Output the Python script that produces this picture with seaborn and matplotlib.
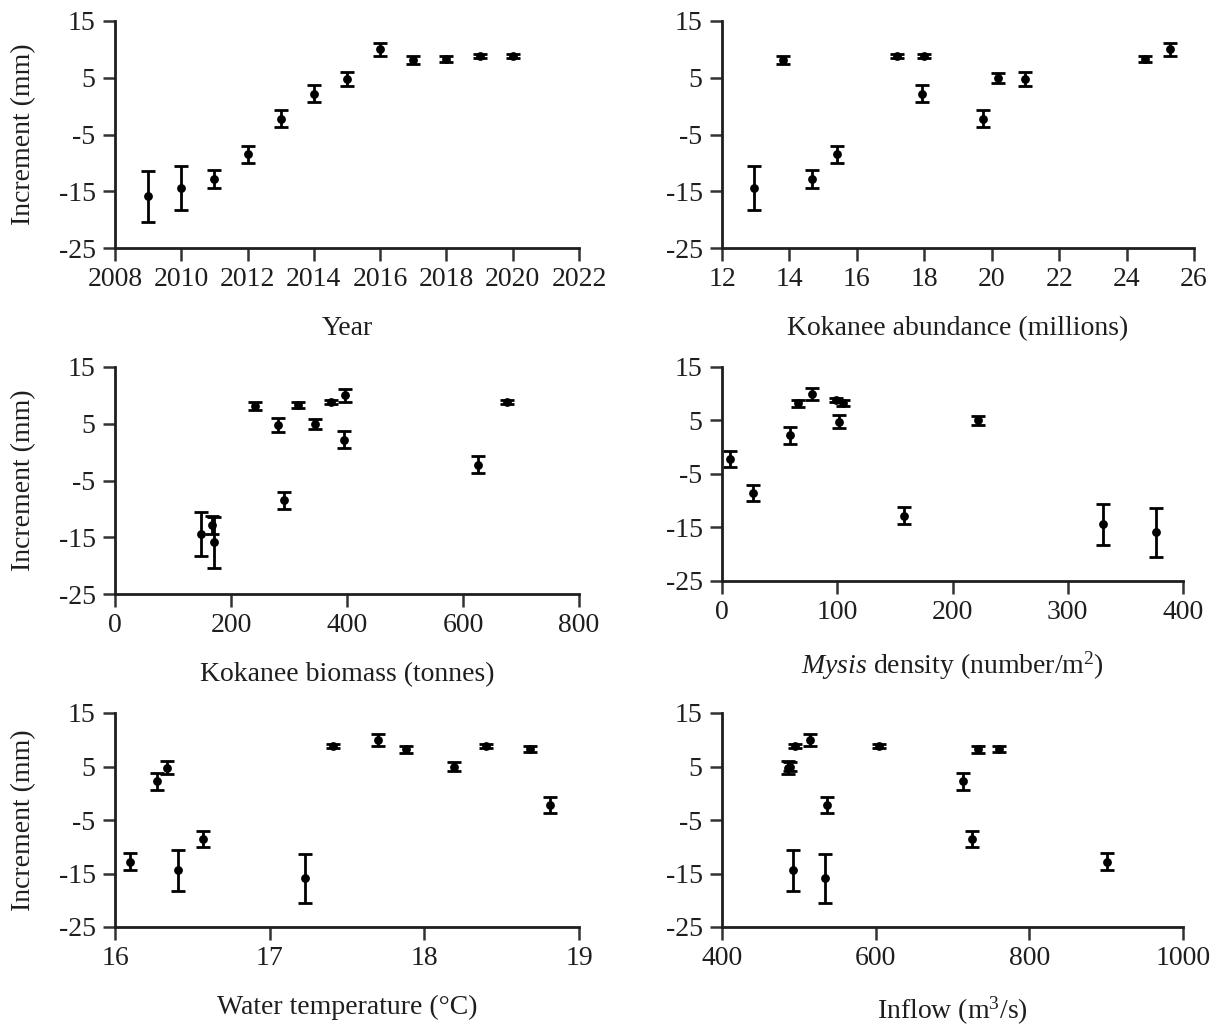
import numpy as np
import pandas as pd
import matplotlib
matplotlib.use("Agg")
import matplotlib.pyplot as plt
import seaborn as sns

sns.set_theme(style="ticks")
plt.rcParams['font.family'] = ['Liberation Serif', 'DejaVu Serif']
plt.rcParams['mathtext.fontset'] = 'custom'
plt.rcParams['mathtext.rm'] = 'Liberation Serif'
plt.rcParams['mathtext.it'] = 'Liberation Serif:italic'
plt.rcParams['axes.unicode_minus'] = False

# ---- data (13 records; NaN where a record is not shown in a panel) ----
increment = [-15.9, -14.4, -12.8, -8.5, -2.2, 2.2, 4.8, 10.0, 8.2, 8.3, 8.8, 8.8, 5.0]
error = [4.55, 3.85, 1.6, 1.5, 1.5, 1.5, 1.2, 1.1, 0.7, 0.6, 0.4, 0.4, 0.85]
year = [2009, 2010, 2011, 2012, 2013, 2014, 2015, 2016, 2017, 2018, 2019, 2020, np.nan]
abundance = [np.nan, 12.95, 14.68, 15.40, 19.74, 17.94, 21.0, 25.3, 13.8, 24.55, 17.19, 18.0, 20.19]
biomass = [170, 148, 168, 292, 625, 394, 281.5, 397, 241, 316, 373, 676, 344]
mysis = [377, 331, 157.6, 27.2, 6.8, 58.7, 101.5, 78.4, 66.2, 105.3, 98.5, np.nan, 221.7]
temperature = [17.23, 16.41, 16.10, 16.57, 18.81, 16.27, 16.335, 17.70, 17.88, 18.68, 17.41, 18.40, 18.19]
inflow = [534.5, 492.7, 901.7, 726, 537, 713.8, 486, 514.6, 732.6, 761, 494.7, 604.8, 489]

y_ticks = [-25, -15, -5, 5, 15]

df = pd.DataFrame({
    "increment": increment, "error": error, "year": year, "abundance": abundance,
    "biomass": biomass, "mysis": mysis, "temperature": temperature, "inflow": inflow,
})

panels = [
    ("year", "Year", (2008, 2022), list(range(2008, 2023, 2))),
    ("abundance", "Kokanee abundance (millions)", (12, 26), list(range(12, 27, 2))),
    ("biomass", "Kokanee biomass (tonnes)", (0, 800), [0, 200, 400, 600, 800]),
    ("mysis", r"$\mathit{Mysis}$ density (number/m$^{2}$)", (0, 400), [0, 100, 200, 300, 400]),
    ("temperature", "Water temperature (°C)", (16, 19), [16, 17, 18, 19]),
    ("inflow", r"Inflow (m$^{3}$/s)", (400, 1000), [400, 600, 800, 1000]),
]

W, H = 1218, 1029
fig = plt.figure(figsize=(W / 100, H / 100), dpi=100)

# pixel boxes: left, right, top, bottom
boxes = [
    (115, 579, 21, 248),
    (722, 1194, 21, 248),
    (115, 579, 367, 594),
    (722, 1183, 367, 581),
    (115, 579, 713, 927),
    (722, 1183, 713, 927),
]

ink = "#1e1e1e"
for i, ((col, label, xlim, xt), (l, r, t, b)) in enumerate(zip(panels, boxes)):
    ax = fig.add_axes([l / W, 1 - b / H, (r - l) / W, (b - t) / H])
    sub = df.dropna(subset=[col])
    ax.errorbar(sub[col], sub["increment"], yerr=sub["error"], fmt="none",
                ecolor="black", elinewidth=2.0, capsize=5, capthick=2.0, zorder=2)
    sns.scatterplot(data=sub, x=col, y="increment", ax=ax, color="black",
                    s=40, edgecolor="black", linewidth=0, zorder=3)
    ax.set_xlim(*xlim)
    ax.set_ylim(-25, 15)
    ax.set_xticks(xt)
    ax.set_yticks(y_ticks)
    ax.set_xticklabels([str(v) for v in xt])
    ax.set_yticklabels([str(v) for v in y_ticks])
    ax.tick_params(axis="both", labelsize=20, length=9, width=1.8, direction="out",
                   color="#333333", labelcolor=ink, pad=5)
    for s in ["top", "right"]:
        ax.spines[s].set_visible(False)
    for s in ["left", "bottom"]:
        ax.spines[s].set_linewidth(2.0)
        ax.spines[s].set_color(ink)
    ax.set_xlabel(label, fontsize=20, labelpad=17, color=ink)
    if i % 2 == 0:
        ax.set_ylabel("Increment (mm)", fontsize=20, labelpad=16, color=ink)
    else:
        ax.set_ylabel("")
    ax.set_facecolor("white")

fig.savefig("out.png", dpi=100, facecolor="white")
